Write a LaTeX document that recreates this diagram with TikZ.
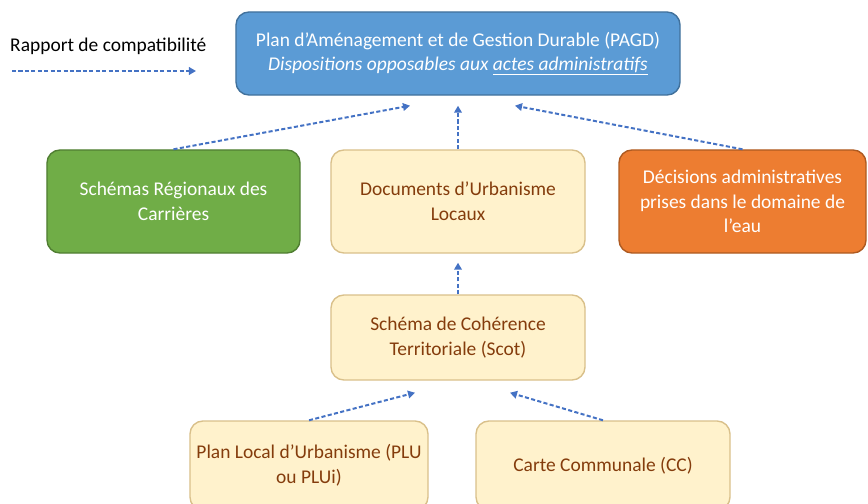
\documentclass[tikz,border=0pt]{standalone}
\usepackage{fontspec}
\setmainfont{Carlito}
\usepackage{xcolor}
\usetikzlibrary{calc,arrows.meta}
\definecolor{pagdfill}{HTML}{5B9BD5}
\definecolor{pagdline}{HTML}{41719C}
\definecolor{greenfill}{HTML}{70AD47}
\definecolor{greenline}{HTML}{507E32}
\definecolor{orangefill}{HTML}{ED7D31}
\definecolor{orangeline}{HTML}{AE5A21}
\definecolor{creamfill}{HTML}{FFF2CC}
\definecolor{creamline}{HTML}{D9C08A}
\definecolor{browntext}{HTML}{843C0C}
\definecolor{arrowblue}{HTML}{4472C4}
\tikzset{
  box/.style={rounded corners=11pt, line width=1.2pt, align=center, inner sep=2pt,
    font=\fontsize{16.6}{21}\selectfont},
  bluebox/.style={box, draw=pagdline, fill=pagdfill, text=white},
  greenbox/.style={box, draw=greenline, fill=greenfill, text=white},
  orangebox/.style={box, draw=orangeline, fill=orangefill, text=white},
  creambox/.style={box, draw=creamline, fill=creamfill, text=browntext},
  compat/.style={draw=arrowblue, line width=1.7pt, dash pattern=on 3.5pt off 2pt,
    -{Triangle[length=6pt,width=6.5pt]}},
}

\begin{document}
\begin{tikzpicture}[x=0.03cm, y=-0.03cm]
  \useasboundingbox (0,0) rectangle (868,504);
  \clip (0,0) rectangle (868,504);
  % legend
  \node[font=\fontsize{16.6}{21}\selectfont, anchor=west, inner sep=0pt] (legtext) at (10,46) {Rapport de compatibilité};
  \coordinate (legA) at (12,71);
  \coordinate (legB) at (196,71);
  \draw[compat] (legA) -- (legB);
  % boxes
  \node[bluebox, minimum width=13.32cm, minimum height=2.49cm] (pagd) at (458,53.5)
    {Plan d’Aménagement et de Gestion Durable (PAGD)\\
     \textit{Dispositions opposables aux \underline{actes administratifs}}};
  \node[greenbox, minimum width=7.59cm, minimum height=3.09cm] (src) at (173.5,201.5)
    {Schémas Régionaux des\\Carrières};
  \node[creambox, minimum width=7.62cm, minimum height=3.09cm] (dul) at (458,201.5)
    {Documents d’Urbanisme\\Locaux};
  \node[orangebox, minimum width=7.41cm, minimum height=3.09cm] (dae) at (742.5,201.5)
    {Décisions administratives\\prises dans le domaine de\\l’eau};
  \node[creambox, minimum width=7.62cm, minimum height=2.55cm] (scot) at (458,337.5)
    {Schéma de Cohérence\\Territoriale (Scot)};
  \node[creambox, minimum width=7.14cm, minimum height=2.67cm] (plu) at (309,465.5)
    {Plan Local d’Urbanisme (PLU\\ou PLUi)};
  \node[creambox, minimum width=7.62cm, minimum height=2.67cm] (cc) at (603,465.5)
    {Carte Communale (CC)};
  % arrow ends
  \coordinate (pagdL) at ($(pagd.south)+(-48,10)$);
  \coordinate (pagdM) at ($(pagd.south)+(0,10)$);
  \coordinate (pagdR) at ($(pagd.south)+(57,10)$);
  \coordinate (dulM) at ($(dul.south)+(0,9)$);
  \coordinate (scotL) at ($(scot.south)+(-43,12)$);
  \coordinate (scotR) at ($(scot.south)+(52,12)$);
  \draw[compat] (src.north) -- (pagdL);
  \draw[compat] (dul.north) -- (pagdM);
  \draw[compat] (dae.north) -- (pagdR);
  \draw[compat] (scot.north) -- (dulM);
  \draw[compat] (plu.north) -- (scotL);
  \draw[compat] (cc.north) -- (scotR);
\end{tikzpicture}
\end{document}
